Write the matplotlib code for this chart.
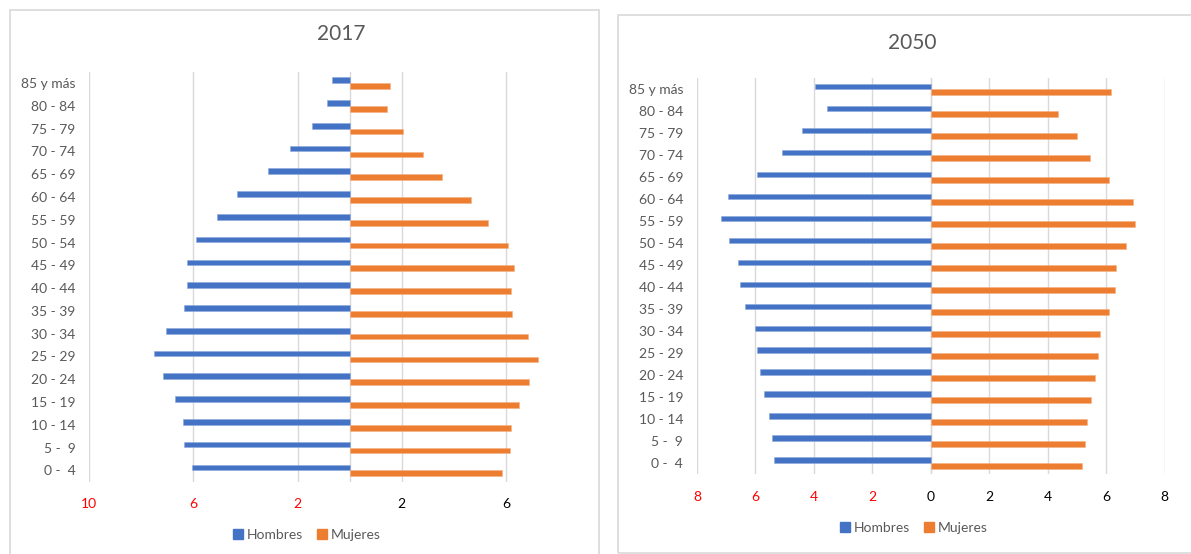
import matplotlib
matplotlib.use("Agg")
import matplotlib.pyplot as plt
from matplotlib.patches import Rectangle, Patch

plt.rcParams['font.family'] = ['Lato', 'DejaVu Sans']

categories = ["0 -  4", "5 -  9", "10 - 14", "15 - 19", "20 - 24", "25 - 29", "30 - 34",
              "35 - 39", "40 - 44", "45 - 49", "50 - 54", "55 - 59", "60 - 64", "65 - 69",
              "70 - 74", "75 - 79", "80 - 84", "85 y más"]

hombres_2017 = [6.07, 6.38, 6.39, 6.71, 7.17, 7.52, 7.05, 6.38, 6.24, 6.26, 5.92, 5.08,
                4.32, 3.14, 2.28, 1.46, 0.87, 0.68]
mujeres_2017 = [5.86, 6.16, 6.20, 6.49, 6.89, 7.24, 6.83, 6.23, 6.20, 6.32, 6.07, 5.30,
                4.64, 3.56, 2.83, 2.06, 1.43, 1.56]

hombres_2050 = [5.36, 5.44, 5.54, 5.69, 5.84, 5.94, 6.02, 6.34, 6.54, 6.59, 6.90, 7.17,
                6.95, 5.96, 5.08, 4.41, 3.55, 3.97]
mujeres_2050 = [5.18, 5.26, 5.36, 5.49, 5.62, 5.73, 5.80, 6.09, 6.29, 6.34, 6.67, 6.99,
                6.91, 6.09, 5.44, 5.02, 4.36, 6.16]

ticks_2017 = [-10, -6, -2, 2, 6]
ticks_2050 = [-8, -6, -4, -2, 0, 2, 4, 6, 8]

W, H = 1191, 554
fig = plt.figure(figsize=(W / 100, H / 100), dpi=100)
fig.patch.set_facecolor('white')

BLUE = '#4472C4'
ORANGE = '#ED7D31'
GRID = '#D9D9D9'
TXT = '#595959'


def px_axes(x0, y0, x1, y1):
    return fig.add_axes([x0 / W, 1 - y1 / H, (x1 - x0) / W, (y1 - y0) / H])


def draw(ax, hombres, mujeres, ticks, xlim):
    n = len(categories)
    pos = list(range(n))
    h = 0.25
    off = 0.13
    ax.barh([p + off for p in pos], [-v for v in hombres], height=h, color=BLUE,
            edgecolor='#8FAADC', linewidth=0.4, zorder=3)
    ax.barh([p - off for p in pos], mujeres, height=h, color=ORANGE,
            edgecolor='#F4B183', linewidth=0.4, zorder=3)
    ax.set_xticks(ticks)
    ax.set_xticklabels([str(abs(t)) for t in ticks])
    for lbl, t in zip(ax.get_xticklabels(), ticks):
        lbl.set_color('#FF0000' if t < 0 else '#000000')
    ax.set_yticks(pos)
    ax.set_yticklabels(categories, color=TXT)
    ax.set_xlim(*xlim)
    ax.set_ylim(-0.5, n - 0.5)
    ax.tick_params(axis='both', length=0, labelsize=10)
    ax.tick_params(axis='x', pad=12)
    ax.tick_params(axis='y', pad=10)
    ax.grid(axis='x', color=GRID, linewidth=1, zorder=0)
    ax.axvline(0, color=GRID, linewidth=1, zorder=1)
    for s in ax.spines.values():
        s.set_visible(False)
    ax.set_facecolor('none')


# frames
fig.patches.append(Rectangle((10 / W, 1 - 600 / H), (599 - 10) / W, (600 - 10) / H,
                             transform=fig.transFigure, fill=False, edgecolor=GRID, linewidth=1.2))
fig.patches.append(Rectangle((618 / W, 1 - 553 / H), (1250 - 618) / W, (553 - 15) / H,
                             transform=fig.transFigure, fill=False, edgecolor=GRID, linewidth=1.2))

# 2017
ax1 = px_axes(89.3, 71.7, 598, 481.7)
draw(ax1, hombres_2017, mujeres_2017, ticks_2017, (-10, (598 - 349.7) / 26.04))
fig.text(341 / W, 1 - 34 / H, "2017", ha='center', va='center', fontsize=15, color=TXT)

# 2050
ax2 = px_axes(696.9, 78.3, 1164.6, 474)
draw(ax2, hombres_2050, mujeres_2050, ticks_2050, (-8, 8))
fig.text(912 / W, 1 - 43 / H, "2050", ha='center', va='center', fontsize=15, color=TXT)

handles = [Patch(color=BLUE, label='Hombres'), Patch(color=ORANGE, label='Mujeres')]
for cx, cy in [(307, 535), (914, 528)]:
    leg = fig.legend(handles=handles, loc='center', bbox_to_anchor=(cx / W, 1 - cy / H),
                     ncol=2, frameon=False, fontsize=10, handlelength=0.7, handleheight=0.7,
                     handletextpad=0.3, columnspacing=1.0)
    for t in leg.get_texts():
        t.set_color(TXT)

fig.savefig('out.png', dpi=100, facecolor='white')
